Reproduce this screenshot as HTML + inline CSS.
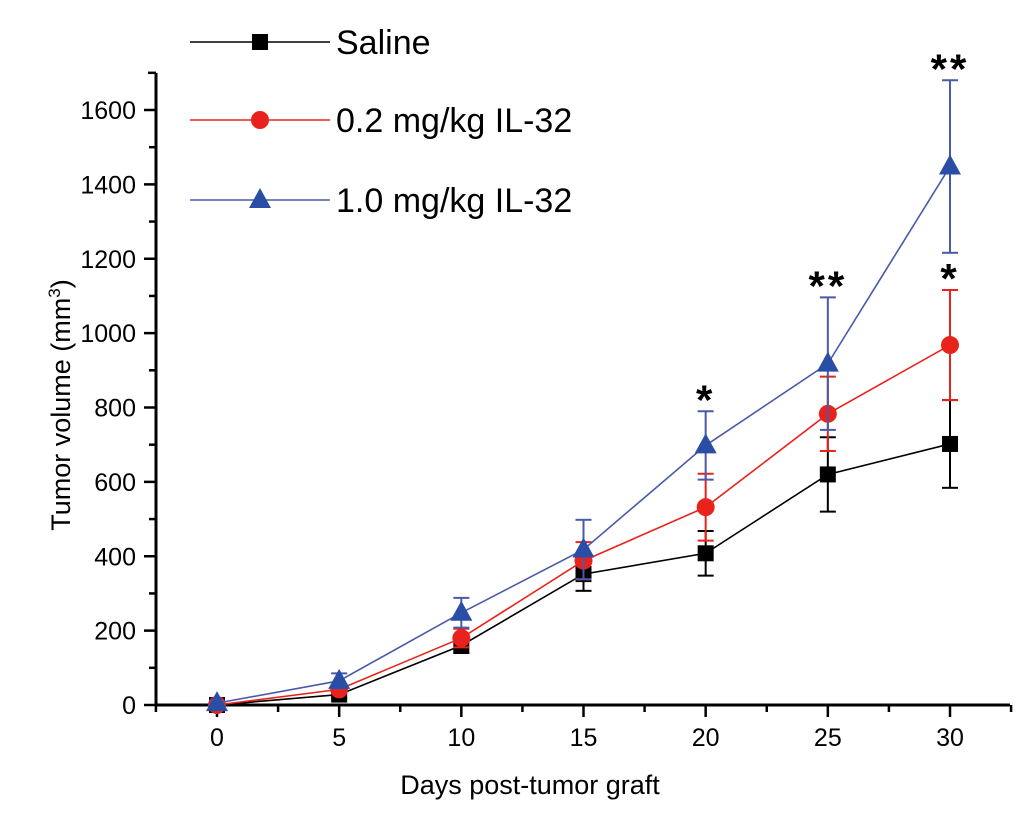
<!DOCTYPE html>
<html><head><meta charset="utf-8"><style>
body{margin:0;background:#fff}
svg{display:block;font-family:"Liberation Sans",Arial,sans-serif}
</style></head><body>
<svg id="chart" width="1033" height="817" viewBox="0 0 1033 817" xmlns="http://www.w3.org/2000/svg"></svg>
<script>
const days=[0,5,10,15,20,25,30];
const salineVals=[0,28,160,352,408,620,702];
const salineErr=[5,8,20,45,60,100,118];
const lowVals=[0,42,180,388,532,783,968];
const lowErr=[5,10,25,50,90,100,148];
const highVals=[5,65,248,418,698,918,1448];
const highErr=[5,20,40,80,92,178,232];
const yTicks=[0,200,400,600,800,1000,1200,1400,1600];
const xTicks=[0,5,10,15,20,25,30];
const sigLabels=[{x:20,v:792,t:"*"},{x:25,v:1098,t:"**"},{x:30,v:1682,t:"**"},{x:30,v:1118,t:"*"}];

const NS="http://www.w3.org/2000/svg";
const svg=document.getElementById('chart');
const X=d=>217+d*(950-217)/30;
const Y=v=>705-v*(705-110)/1600;
function el(tag,attrs,parent){const e=document.createElementNS(NS,tag);for(const k in attrs)e.setAttribute(k,attrs[k]);(parent||svg).appendChild(e);return e;}

const ax=el('g',{});


el('line',{x1:156,y1:705,x2:1010,y2:705,stroke:'#000','stroke-width':3},ax);
el('line',{x1:156,y1:Y(1700),x2:156,y2:706.5,stroke:'#000','stroke-width':3},ax);
yTicks.forEach((v,i)=>{
  el('line',{x1:144,y1:Y(v),x2:156,y2:Y(v),stroke:'#000','stroke-width':2.5},ax);
  if(i<yTicks.length-1) el('line',{x1:149,y1:Y(v+100),x2:156,y2:Y(v+100),stroke:'#000','stroke-width':2.5},ax);
  const t=el('text',{x:136,y:Y(v)+9,'text-anchor':'end','font-size':25},ax);
  t.textContent=v;
  
  
});
el('line',{x1:148,y1:Y(1700),x2:156,y2:Y(1700),stroke:'#000','stroke-width':2.5},ax);
xTicks.forEach(d=>{
  el('line',{x1:X(d),y1:705,x2:X(d),y2:717,stroke:'#000','stroke-width':2.5},ax);
  el('line',{x1:X(d-2.5),y1:705,x2:X(d-2.5),y2:712,stroke:'#000','stroke-width':2.5},ax);
  const t=el('text',{x:X(d),y:746,'text-anchor':'middle','font-size':25},ax);
  t.textContent=d;
  
  
});
el('line',{x1:X(32.5),y1:705,x2:X(32.5),y2:712,stroke:'#000','stroke-width':2.5},ax);

const xt=el('text',{x:530,y:794,'text-anchor':'middle','font-size':27});
xt.textContent='Days post-tumor graft';


const yt=el('text',{x:0,y:0,'text-anchor':'middle','font-size':27,transform:'translate(70,405) rotate(-90)'});
yt.innerHTML='Tumor volume (mm<tspan dy="-10" font-size="17">3</tspan><tspan dy="10">)</tspan>';



function marker(g,shape,x,y,c){
  if(shape==='sq') el('rect',{x:x-8,y:y-8,width:16,height:16,fill:c},g);
  else if(shape==='ci') el('circle',{cx:x,cy:y,r:9,fill:c},g);
  else el('polygon',{points:`${x},${y-12} ${x-11},${y+8} ${x+11},${y+8}`,fill:c},g);
}
const series=[
 {name:'saline',vals:salineVals,err:salineErr,c:'#000',lc:'#000',shape:'sq'},
 {name:'0.2-mgkg',vals:lowVals,err:lowErr,c:'#e8231c',lc:'#e8231c',shape:'ci'},
 {name:'1.0-mgkg',vals:highVals,err:highErr,c:'#2a4ea6',lc:'#4a5aa8',shape:'tr'}
];
series.forEach(s=>{
  const g=el('g',{});
  
  
  days.forEach((d,i)=>{
    const x=X(d),y1=Y(s.vals[i]+s.err[i]),y2=Y(s.vals[i]-s.err[i]);
    el('line',{x1:x,y1:y1,x2:x,y2:y2,stroke:s.lc,'stroke-width':2},g);
    el('line',{x1:x-8,y1:y1,x2:x+8,y2:y1,stroke:s.lc,'stroke-width':2},g);
    el('line',{x1:x-8,y1:y2,x2:x+8,y2:y2,stroke:s.lc,'stroke-width':2},g);
  });
  el('polyline',{points:days.map((d,i)=>X(d)+','+Y(s.vals[i])).join(' '),fill:'none',stroke:s.lc,'stroke-width':1.6},g);
  days.forEach((d,i)=>marker(g,s.shape,X(d),Y(s.vals[i]),s.c));
});
sigLabels.forEach(s=>{
  const t=el('text',{x:X(s.x),y:Y(s.v)+4,'text-anchor':'middle','font-size':42,'font-weight':'bold','letter-spacing':3});
  t.textContent=s.t;
  
  
});
const labels=['Saline','0.2 mg/kg IL-32','1.0 mg/kg IL-32'];
const ly=[42,120,200];
series.forEach((s,i)=>{
  const g=el('g',{});
  
  
  el('line',{x1:190,y1:ly[i],x2:330,y2:ly[i],stroke:s.lc,'stroke-width':1.6},g);
  marker(g,s.shape,260,ly[i],s.c);
  const t=el('text',{x:336,y:ly[i]+12,'font-size':34},g);
  t.textContent=labels[i];
});
</script>
</body></html>
